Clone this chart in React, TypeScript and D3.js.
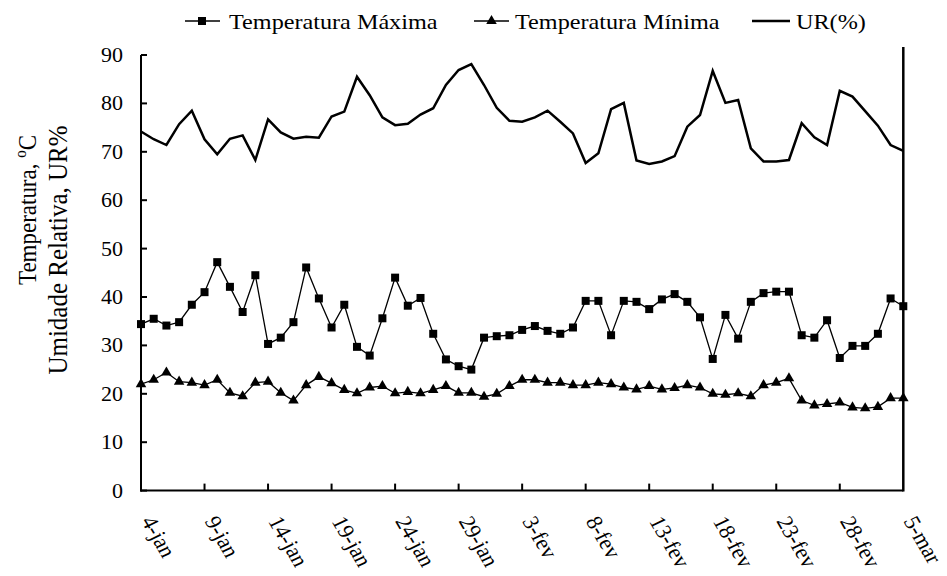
import React from "react";
import * as d3 from "d3";

// Daily observations, 4-jan through 5-mar (61 days)
const urValues = [
  74.2, 72.6, 71.4, 75.7, 78.5, 72.6, 69.5, 72.7, 73.4, 68.3,
  76.7, 74.0, 72.7, 73.1, 72.9, 77.3, 78.3, 85.5, 81.7, 77.1,
  75.5, 75.8, 77.7, 79.0, 83.8, 86.9, 88.1, 83.8, 79.1, 76.4,
  76.2, 77.1, 78.5, 76.2, 73.8, 67.7, 69.7, 78.8, 80.1, 68.2,
  67.5, 68.0, 69.1, 75.2, 77.6, 86.7, 80.1, 80.7, 70.7, 68.0,
  68.0, 68.3, 75.9, 73.0, 71.4, 82.6, 81.4, 78.4, 75.4, 71.4,
  70.2,
];

const tempMax = [
  34.4, 35.5, 34.1, 34.8, 38.4, 41.0, 47.2, 42.1, 36.9, 44.5,
  30.3, 31.6, 34.8, 46.1, 39.7, 33.7, 38.4, 29.7, 27.9, 35.6,
  44.0, 38.2, 39.8, 32.4, 27.1, 25.7, 25.0, 31.6, 31.9, 32.1,
  33.2, 34.0, 33.0, 32.4, 33.7, 39.2, 39.2, 32.1, 39.2, 39.0,
  37.5, 39.5, 40.6, 39.0, 35.8, 27.2, 36.3, 31.4, 39.0, 40.8,
  41.1, 41.1, 32.1, 31.6, 35.2, 27.4, 29.9, 29.9, 32.4, 39.7,
  38.1,
];

const tempMin = [
  22.0, 22.9, 24.4, 22.5, 22.3, 21.8, 22.9, 20.2, 19.5, 22.3,
  22.5, 20.2, 18.6, 21.8, 23.5, 22.2, 20.8, 20.1, 21.3, 21.6,
  20.1, 20.4, 20.1, 20.8, 21.6, 20.2, 20.2, 19.4, 20.0, 21.6,
  22.9, 22.9, 22.3, 22.3, 21.8, 21.8, 22.3, 22.0, 21.3, 20.9,
  21.6, 20.9, 21.2, 21.8, 21.3, 20.0, 19.8, 20.1, 19.5, 21.8,
  22.3, 23.2, 18.6, 17.6, 17.9, 18.2, 17.2, 17.0, 17.3, 19.1,
  19.1,
];

const dateLabels = [
  "4-jan", "9-jan", "14-jan", "19-jan", "24-jan", "29-jan", "3-fev",
  "8-fev", "13-fev", "18-fev", "23-fev", "28-fev", "5-mar",
];
const labelStep = 5;

const yTicks = [0, 10, 20, 30, 40, 50, 60, 70, 80, 90];

const W = 947;
const H = 576;
const left = 141;
const right = 903.3;
const top = 55;
const bottom = 490.6;
const FONT = '"Liberation Serif", "Times New Roman", "DejaVu Serif", serif';
const SX = 1.1; // horizontal stretch applied to text glyphs

const txt: React.CSSProperties = { fontFamily: FONT };

export default function App() {
  const n = urValues.length;
  const x = d3.scaleLinear().domain([0, n - 1]).range([left, right]);
  const y = d3.scaleLinear().domain([0, 90]).range([bottom, top]);

  const line = d3
    .line<number>()
    .x((_, i) => x(i))
    .y((d) => y(d));

  const tri = d3.symbol().type(d3.symbolTriangle).size(48)();

  return (
    <svg
      width={W}
      height={H}
      style={{ position: "absolute", left: 0, top: 0, background: "#fff" }}
    >
      <rect width={W} height={H} fill="#fff" />

      {/* legend */}
      <g>
        <line x1={185} x2={220} y1={21} y2={21} stroke="#000" strokeWidth={1.5} />
        <rect x={198} y={17} width={8} height={8} fill="#000" />
        <text style={txt} fontSize={22} transform={`translate(229,29) scale(${SX},1)`}>
          Temperatura Máxima
        </text>
        <line x1={474} x2={509} y1={21} y2={21} stroke="#000" strokeWidth={1.5} />
        <path d={tri} transform="translate(491.5,21)" fill="#000" />
        <text style={txt} fontSize={22} transform={`translate(515,29) scale(${SX},1)`}>
          Temperatura Mínima
        </text>
        <line x1={752} x2={790} y1={21} y2={21} stroke="#000" strokeWidth={2.5} />
        <text style={txt} fontSize={22} transform={`translate(796,29) scale(${SX},1)`}>
          UR(%)
        </text>
      </g>

      {/* y axis title */}
      <g transform="translate(36,210) rotate(-90)">
        <text style={txt} textAnchor="middle" fontSize={23} transform={`scale(1,${SX})`}>
          Temperatura, <tspan fontSize={15} dy={-9}>o</tspan>
          <tspan dy={9}>C</tspan>
        </text>
      </g>
      <g transform="translate(67,250) rotate(-90)">
        <text style={txt} textAnchor="middle" fontSize={25} transform={`scale(1,${SX})`}>
          Umidade Relativa, UR%
        </text>
      </g>

      {/* y axis */}
      <line x1={left} x2={left} y1={top} y2={bottom + 1} stroke="#000" strokeWidth={2} />
      {yTicks.map((t) => (
        <g key={t}>
          <line x1={left} x2={left + 6} y1={y(t)} y2={y(t)} stroke="#000" strokeWidth={2} />
          <text
            style={txt}
            fontSize={20}
            textAnchor="end"
            transform={`translate(123,${y(t) + 7}) scale(${SX},1)`}
          >
            {t}
          </text>
        </g>
      ))}

      {/* right boundary */}
      <line x1={right} x2={right} y1={47} y2={bottom + 1} stroke="#000" strokeWidth={2.5} />

      {/* x axis */}
      <line x1={left - 1} x2={right} y1={bottom} y2={bottom} stroke="#000" strokeWidth={2} />
      {dateLabels.map((lab, k) => {
        const xi = x(k * labelStep);
        return (
          <g key={lab}>
            {k > 0 && k < dateLabels.length - 1 && (
              <line x1={xi} x2={xi} y1={bottom} y2={bottom - 7} stroke="#000" strokeWidth={2} />
            )}
            <text
              style={txt}
              fontSize={21}
              transform={`translate(${xi + 16},${bottom + 27}) scale(${SX},1) rotate(62)`}
              dy="0.7em"
              dx="-4"
            >
              {lab}
            </text>
          </g>
        );
      })}

      {/* relative humidity */}
      <path d={line(urValues) ?? ""} fill="none" stroke="#000" strokeWidth={2.5} />

      {/* maximum temperature */}
      <path d={line(tempMax) ?? ""} fill="none" stroke="#000" strokeWidth={1.3} />
      {tempMax.map((v, i) => (
        <rect key={i} x={x(i) - 4} y={y(v) - 4} width={8} height={8} fill="#000" />
      ))}

      {/* minimum temperature */}
      <path d={line(tempMin) ?? ""} fill="none" stroke="#000" strokeWidth={1.3} />
      {tempMin.map((v, i) => (
        <path key={i} d={tri} transform={`translate(${x(i)},${y(v)})`} fill="#000" />
      ))}
    </svg>
  );
}
